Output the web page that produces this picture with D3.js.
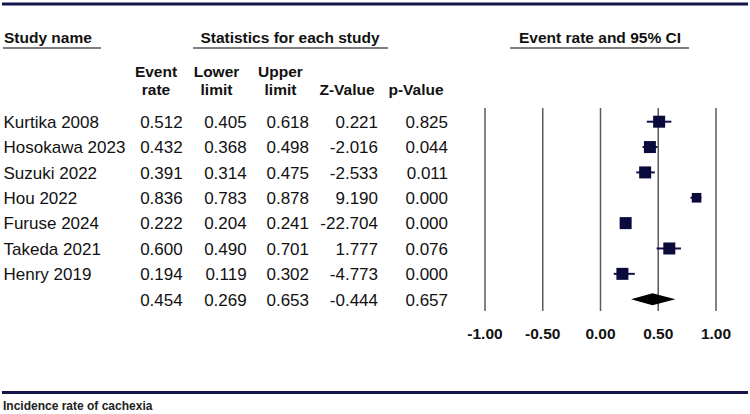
<!DOCTYPE html>
<html>
<head>
<meta charset="utf-8">
<script src="https://cdn.jsdelivr.net/npm/d3@7"></script>
<style>
  html, body { margin: 0; padding: 0; background: #fff; }
  svg { display: block; font-family: "Liberation Sans", Arial, sans-serif; }
</style>
</head>
<body>
<svg id="chart" width="750" height="414"></svg>
<script>
// ---- data ----
const studies   = ["Kurtika 2008", "Hosokawa 2023", "Suzuki 2022", "Hou 2022", "Furuse 2024", "Takeda 2021", "Henry 2019"];
const eventRate = [0.512, 0.432, 0.391, 0.836, 0.222, 0.600, 0.194];
const lowerLim  = [0.405, 0.368, 0.314, 0.783, 0.204, 0.490, 0.119];
const upperLim  = [0.618, 0.498, 0.475, 0.878, 0.241, 0.701, 0.302];
const zValue    = [0.221, -2.016, -2.533, 9.190, -22.704, 1.777, -4.773];
const pValue    = [0.825, 0.044, 0.011, 0.000, 0.000, 0.076, 0.000];
const relWeight = [1.0, 1.0, 1.0, 0.8, 1.0, 1.0, 1.0];
const summary   = { rate: 0.454, lower: 0.269, upper: 0.653, z: -0.444, p: 0.657 };
const axisTicks = [-1.00, -0.50, 0.00, 0.50, 1.00];
const colHeaders = [["Event", "rate"], ["Lower", "limit"], ["Upper", "limit"], ["", "Z-Value"], ["", "p-Value"]];
const footer = "Incidence rate of cachexia";

// ---- layout ----
const svg = d3.select("#chart");
const navy = "#14144a";
const x = d3.scaleLinear().domain([-1, 1]).range([484.5, 715.5]);
const y = d3.scaleLinear().domain([0, 7]).range([121.7, 299.2]);
const gridTop = 108, gridBottom = 311;
const boxSize = d3.scaleLinear().domain([0, 1]).range([0, 12]);
const fmt3 = v => v.toFixed(3);
const fmt2 = v => v.toFixed(2);

// top & bottom rules
svg.append("line").attr("x1", 2).attr("x2", 748).attr("y1", 4).attr("y2", 4)
  .attr("stroke", navy).attr("stroke-width", 3);
svg.append("line").attr("x1", 2).attr("x2", 748).attr("y1", 392.5).attr("y2", 392.5)
  .attr("stroke", navy).attr("stroke-width", 3);

// section headers
const sections = [
  { text: "Study name", tx: 4, anchor: "start", u1: 3, u2: 101 },
  { text: "Statistics for each study", tx: 290, anchor: "middle", u1: 193, u2: 388 },
  { text: "Event rate and 95% CI", tx: 600, anchor: "middle", u1: 510, u2: 689 }
];
sections.forEach(s => {
  svg.append("text").attr("x", s.tx).attr("y", 42.7).attr("text-anchor", s.anchor)
    .attr("font-size", 15.5).attr("font-weight", "bold").attr("fill", "#111").text(s.text);
  svg.append("line").attr("x1", s.u1).attr("x2", s.u2).attr("y1", 48).attr("y2", 48)
    .attr("stroke", "#555").attr("stroke-width", 1.6);
});

// column headers
const colCenters = [156, 216.5, 280.5, 347, 416];
const colRight = [182.7, 246.7, 309, 378, 448];
colHeaders.forEach((h, i) => {
  [0, 1].forEach(k => {
    if (!h[k]) return;
    svg.append("text").attr("x", colCenters[i]).attr("y", k === 0 ? 76.5 : 95)
      .attr("text-anchor", "middle").attr("font-size", 15.5).attr("font-weight", "bold")
      .attr("fill", "#111").text(h[k]);
  });
});

// table rows
const cols = [eventRate, lowerLim, upperLim, zValue, pValue];
const rows = svg.append("g").attr("font-size", 17).attr("fill", "#111");
studies.forEach((name, i) => {
  rows.append("text").attr("x", 3.5).attr("y", y(i) + 6.3).text(name);
  cols.forEach((c, j) => {
    rows.append("text").attr("x", colRight[j]).attr("y", y(i) + 6.3)
      .attr("text-anchor", "end").text(fmt3(c[i]));
  });
});
const sumVals = [summary.rate, summary.lower, summary.upper, summary.z, summary.p];
sumVals.forEach((v, j) => {
  rows.append("text").attr("x", colRight[j]).attr("y", y(7) + 6.3)
    .attr("text-anchor", "end").text(fmt3(v));
});

// axis with vertical gridlines
const axis = d3.axisBottom(x).tickValues(axisTicks).tickFormat(fmt2)
  .tickSizeInner(-(gridBottom - gridTop)).tickSizeOuter(0).tickPadding(17);
const ag = svg.append("g").attr("transform", `translate(0,${gridBottom})`).call(axis);
ag.select(".domain").remove();
ag.selectAll(".tick line").attr("stroke", "#5a5a5a").attr("stroke-width", 1.5);
ag.selectAll(".tick text").attr("font-size", 15.5).attr("font-weight", "bold")
  .attr("fill", "#111").attr("font-family", "Liberation Sans, Arial, sans-serif");

// CI lines and boxes
const marks = svg.append("g");
studies.forEach((name, i) => {
  marks.append("line").attr("x1", x(lowerLim[i])).attr("x2", x(upperLim[i]))
    .attr("y1", y(i)).attr("y2", y(i)).attr("stroke", navy).attr("stroke-width", 2);
  const s = boxSize(relWeight[i]);
  marks.append("rect").attr("x", x(eventRate[i]) - s / 2).attr("y", y(i) - s / 2)
    .attr("width", s).attr("height", s).attr("fill", "#0a0a3c");
});

// summary diamond
const dh = 6;
marks.append("path")
  .attr("d", `M${x(summary.lower)},${y(7)} L${x(summary.rate)},${y(7) - dh} L${x(summary.upper)},${y(7)} L${x(summary.rate)},${y(7) + dh} Z`)
  .attr("fill", "#000");

// footer
svg.append("text").attr("x", 3).attr("y", 410).attr("font-size", 12).attr("font-weight", "bold")
  .attr("fill", "#222").text(footer);
</script>
</body>
</html>
